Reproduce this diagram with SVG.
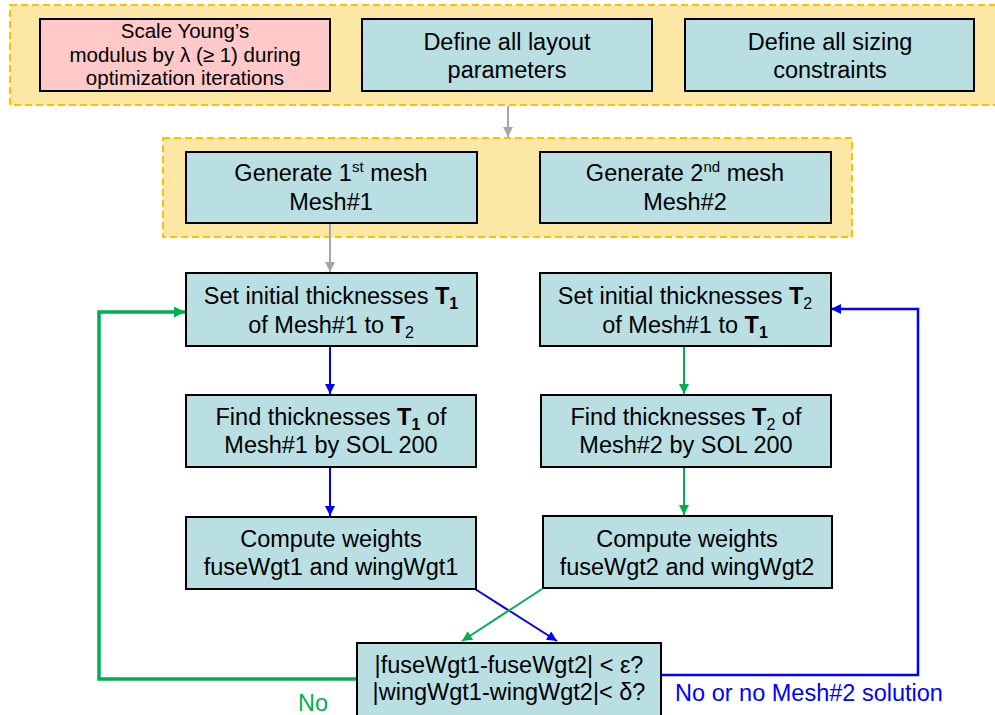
<svg xmlns="http://www.w3.org/2000/svg" width="995" height="715" viewBox="0 0 995 715">
<defs>
<style>
.grp{fill:#FDE7A4;stroke:#FFC000;stroke-width:2;stroke-dasharray:7 4}
.box{fill:#B9DFE2;stroke:#000;stroke-width:2}
.pink{fill:#FFC9C9;stroke:#000;stroke-width:2}
text{font-family:"Liberation Sans",Arial,sans-serif;font-size:23.5px;fill:#000;text-anchor:middle}
.sm{font-size:20.5px}
.b{font-weight:bold}
.sub{font-size:16px}
.sup{font-size:15px}
.gray{stroke:#A6A6A6;stroke-width:2;fill:none}
.blue{stroke:#0000FF;stroke-width:2;fill:none}
.green{stroke:#00B050;stroke-width:2;fill:none}
.blue3{stroke:#0000FF;stroke-width:2.5;fill:none}
.green3{stroke:#00B050;stroke-width:3.5;fill:none}
</style>
<marker id="ag" viewBox="0 0 10 10" refX="10" refY="5" markerWidth="12" markerHeight="10" orient="auto" markerUnits="userSpaceOnUse"><path d="M0,0 L10,5 L0,10 z" fill="#A6A6A6"/></marker>
<marker id="ab2" viewBox="0 0 10 10" refX="10" refY="5" markerWidth="12" markerHeight="10" orient="auto" markerUnits="userSpaceOnUse"><path d="M0,0 L10,5 L0,10 z" fill="#0000FF"/></marker>
<marker id="agr" viewBox="0 0 10 10" refX="10" refY="5" markerWidth="12" markerHeight="10" orient="auto" markerUnits="userSpaceOnUse"><path d="M0,0 L10,5 L0,10 z" fill="#00B050"/></marker>
<marker id="agr2" viewBox="0 0 10 10" refX="10" refY="5" markerWidth="13" markerHeight="11" orient="auto" markerUnits="userSpaceOnUse"><path d="M0,0 L10,5 L0,10 z" fill="#00B050"/></marker>
</defs>

<g id="container-top"><rect class="grp" x="10" y="5" width="995" height="100"/></g>
<g id="container-mesh"><rect class="grp" x="163" y="138" width="689" height="99"/></g>

<g id="connectors">
<line class="gray" x1="508" y1="106" x2="508" y2="137" marker-end="url(#ag)"/>
<line class="gray" x1="330" y1="224" x2="330" y2="272" marker-end="url(#ag)"/>
<line class="blue" x1="330" y1="347" x2="330" y2="394" marker-end="url(#ab2)"/>
<line class="blue" x1="330" y1="468" x2="330" y2="516" marker-end="url(#ab2)"/>
<line class="green" x1="684" y1="347" x2="684" y2="394" marker-end="url(#agr)"/>
<line class="green" x1="684" y1="468" x2="684" y2="515" marker-end="url(#agr)"/>
<line class="blue" x1="475" y1="589" x2="557" y2="641" marker-end="url(#ab2)"/>
<line class="green" x1="542" y1="589" x2="462" y2="641" marker-end="url(#agr)"/>
<polyline class="green3" points="357,679 99,679 99,312 185,312" marker-end="url(#agr2)"/>
<polyline class="blue3" points="661,675 918,675 918,309 831,309" marker-end="url(#ab2)"/>
</g>

<g id="scale-young">
<rect class="pink" x="40" y="19" width="290" height="72"/>
<text class="sm" x="185" y="38">Scale Young’s</text>
<text class="sm" x="185" y="62">modulus by λ (≥ 1) during</text>
<text class="sm" x="185" y="85">optimization iterations</text>
</g>
<g id="layout-params">
<rect class="box" x="362" y="19" width="290" height="72"/>
<text x="507" y="50">Define all layout</text>
<text x="507" y="78">parameters</text>
</g>
<g id="sizing-constraints">
<rect class="box" x="685" y="19" width="289" height="72"/>
<text x="830" y="50">Define all sizing</text>
<text x="830" y="78">constraints</text>
</g>

<g id="gen-mesh1">
<rect class="box" x="186" y="152" width="291" height="71"/>
<text x="331" y="181">Generate 1<tspan class="sup" dy="-9">st</tspan><tspan dy="9"> mesh</tspan></text>
<text x="331" y="210">Mesh#1</text>
</g>
<g id="gen-mesh2">
<rect class="box" x="540" y="152" width="291" height="71"/>
<text x="685" y="181">Generate 2<tspan class="sup" dy="-9">nd</tspan><tspan dy="9"> mesh</tspan></text>
<text x="685" y="210">Mesh#2</text>
</g>

<g id="set-t1">
<rect class="box" x="186" y="273" width="291" height="73"/>
<text x="331" y="304">Set initial thicknesses <tspan class="b">T</tspan><tspan class="b sub" dy="5">1</tspan></text>
<text x="331" y="333">of Mesh#1  to <tspan class="b">T</tspan><tspan class="sub" dy="5">2</tspan></text>
</g>
<g id="set-t2">
<rect class="box" x="540" y="273" width="291" height="73"/>
<text x="685" y="304">Set initial thicknesses <tspan class="b">T</tspan><tspan class="sub" dy="5">2</tspan></text>
<text x="685" y="333">of Mesh#1  to <tspan class="b">T</tspan><tspan class="b sub" dy="5">1</tspan></text>
</g>

<g id="find-t1">
<rect class="box" x="186" y="395" width="290" height="72"/>
<text x="331" y="425">Find thicknesses <tspan class="b">T</tspan><tspan class="b sub" dy="5">1</tspan><tspan dy="-5"> of</tspan></text>
<text x="331" y="453">Mesh#1 by SOL 200</text>
</g>
<g id="find-t2">
<rect class="box" x="541" y="395" width="290" height="72"/>
<text x="686" y="425">Find thicknesses <tspan class="b">T</tspan><tspan class="sub" dy="5">2</tspan><tspan dy="-5"> of</tspan></text>
<text x="686" y="453">Mesh#2 by SOL 200</text>
</g>

<g id="compute-w1">
<rect class="box" x="186" y="517" width="290" height="72"/>
<text x="331" y="547">Compute weights</text>
<text x="331" y="575">fuseWgt1 and wingWgt1</text>
</g>
<g id="compute-w2">
<rect class="box" x="543" y="516" width="289" height="72"/>
<text x="687" y="547">Compute weights</text>
<text x="687" y="575">fuseWgt2 and wingWgt2</text>
</g>

<g id="decision">
<rect class="box" x="357" y="643" width="304" height="75"/>
<text x="509" y="673">|fuseWgt1-fuseWgt2| &lt; ε?</text>
<text x="509" y="700">|wingWgt1-wingWgt2|&lt; δ?</text>
</g>

<g id="labels">
<text x="313" y="711" style="fill:#00B050">No</text>
<text x="809" y="701" style="fill:#0000FF">No or no Mesh#2 solution</text>
</g>
</svg>
